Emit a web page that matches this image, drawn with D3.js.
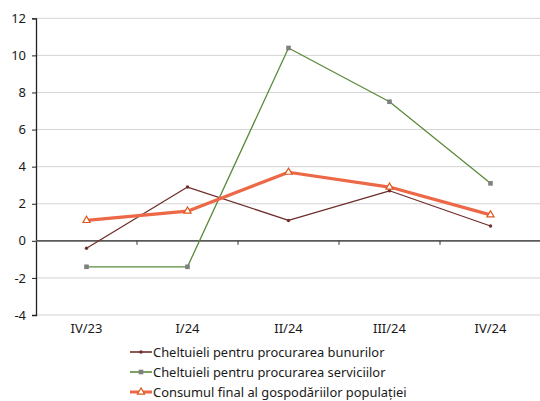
<!DOCTYPE html>
<html>
<head>
<meta charset="utf-8">
<script src="https://cdn.jsdelivr.net/npm/d3@7"></script>
<style>
  body { margin: 0; background: #fff; }
  svg text { font-family: 'Noto Sans', sans-serif; fill: #1a1a1a; }
</style>
</head>
<body>
<div class="canvas"></div>
<script>
// data
const quarters = ['IV/23', 'I/24', 'II/24', 'III/24', 'IV/24'];
const bunuri = [-0.4, 2.9, 1.1, 2.7, 0.8];
const servicii = [-1.4, -1.4, 10.4, 7.5, 3.1];
const consum = [1.1, 1.6, 3.7, 2.9, 1.4];
const yTicks = [-4, -2, 0, 2, 4, 6, 8, 10, 12];

const seriesNames = [
  'Cheltuieli pentru procurarea bunurilor',
  'Cheltuieli pentru procurarea serviciilor',
  'Consumul final al gospodăriilor populației'
];

const dims = { width: 540, height: 401, left: 36, right: 541, top: 18.3, bottom: 315 };

const svg = d3.select('.canvas')
  .append('svg')
  .attr('width', dims.width)
  .attr('height', dims.height);

// scales
const y = d3.scaleLinear().domain([-4, 12]).range([dims.bottom, dims.top]);
const x = d3.scaleBand().domain(quarters).range([dims.left, dims.right]);
const cx = (d) => x(d) + x.bandwidth() / 2;

// gridlines
svg.append('g')
  .selectAll('line')
  .data(yTicks.filter((t) => t !== 0))
  .enter()
  .append('line')
  .attr('x1', dims.left)
  .attr('x2', dims.right)
  .attr('y1', (d) => y(d))
  .attr('y2', (d) => y(d))
  .attr('stroke', '#d4d4d4')
  .attr('stroke-width', 1);

// y axis (plain hyphen for negatives)
const yAxisGroup = svg.append('g')
  .attr('transform', `translate(${dims.left}, 0)`)
  .call(d3.axisLeft(y).tickValues(yTicks).tickSize(4).tickPadding(6).tickFormat((d) => String(d)));
yAxisGroup.select('path.domain').attr('stroke', '#222').attr('stroke-width', 1.3);
yAxisGroup.selectAll('.tick line').attr('stroke', '#222');
yAxisGroup.selectAll('text')
  .attr('font-size', 13)
  .attr('fill', '#1a1a1a')
  .attr('font-family', 'Noto Sans');

// zero line with category ticks
const xAxisGroup = svg.append('g')
  .attr('transform', `translate(0, ${y(0)})`);
xAxisGroup.append('line')
  .attr('x1', dims.left)
  .attr('x2', dims.right)
  .attr('stroke', '#5a5a5a')
  .attr('stroke-width', 1.6);
xAxisGroup.selectAll('line.tk')
  .data(quarters.slice(1))
  .enter()
  .append('line')
  .attr('class', 'tk')
  .attr('x1', (d) => x(d))
  .attr('x2', (d) => x(d))
  .attr('y1', 0)
  .attr('y2', 4)
  .attr('stroke', '#333');

// category labels below the plot
svg.append('g')
  .selectAll('text')
  .data(quarters)
  .enter()
  .append('text')
  .attr('x', (d) => cx(d))
  .attr('y', dims.bottom + 18)
  .attr('text-anchor', 'middle')
  .attr('font-size', 13)
  .text((d) => d);

// lines
const line = d3.line().x((d, i) => cx(quarters[i])).y((d) => y(d));

const series = [
  { values: bunuri, color: '#6e2f2a', width: 1.3 },
  { values: servicii, color: '#5b8a3c', width: 1.3 },
  { values: consum, color: '#ec6846', width: 3.2 }
];

series.forEach((s) => {
  svg.append('path')
    .datum(s.values)
    .attr('fill', 'none')
    .attr('stroke', s.color)
    .attr('stroke-width', s.width)
    .attr('stroke-linejoin', 'round')
    .attr('d', line);
});

// markers
svg.append('g').selectAll('circle')
  .data(bunuri)
  .enter()
  .append('circle')
  .attr('cx', (d, i) => cx(quarters[i]))
  .attr('cy', (d) => y(d))
  .attr('r', 1.7)
  .attr('fill', '#6e2f2a');

svg.append('g').selectAll('rect')
  .data(servicii)
  .enter()
  .append('rect')
  .attr('x', (d, i) => cx(quarters[i]) - 2.3)
  .attr('y', (d) => y(d) - 2.3)
  .attr('width', 4.6)
  .attr('height', 4.6)
  .attr('fill', '#7f7f7f');

const tri = d3.symbol().type(d3.symbolTriangle).size(22);
svg.append('g').selectAll('path')
  .data(consum)
  .enter()
  .append('path')
  .attr('d', tri)
  .attr('transform', (d, i) => `translate(${cx(quarters[i])}, ${y(d)})`)
  .attr('fill', '#fff')
  .attr('stroke', '#d9581c')
  .attr('stroke-width', 1.2);

// legend
const legend = svg.append('g').attr('transform', 'translate(130, 352)');
const legendRows = legend.selectAll('g')
  .data(seriesNames)
  .enter()
  .append('g')
  .attr('transform', (d, i) => `translate(0, ${i * 20})`);

legendRows.append('line')
  .attr('x1', 0)
  .attr('x2', 22)
  .attr('stroke', (d, i) => series[i].color)
  .attr('stroke-width', (d, i) => (i === 2 ? 3 : 1.6));

legendRows.filter((d, i) => i === 0)
  .append('circle').attr('cx', 11).attr('r', 1.7).attr('fill', '#6e2f2a');
legendRows.filter((d, i) => i === 1)
  .append('rect').attr('x', 8.7).attr('y', -2.3).attr('width', 4.6).attr('height', 4.6).attr('fill', '#7f7f7f');
legendRows.filter((d, i) => i === 2)
  .append('path').attr('d', tri).attr('transform', 'translate(11, 0)')
  .attr('fill', '#fff').attr('stroke', '#d9581c').attr('stroke-width', 1.2);

legendRows.append('text')
  .attr('x', 23)
  .attr('y', 4.5)
  .attr('font-size', 12.9)
  .text((d) => d);
</script>
</body>
</html>
